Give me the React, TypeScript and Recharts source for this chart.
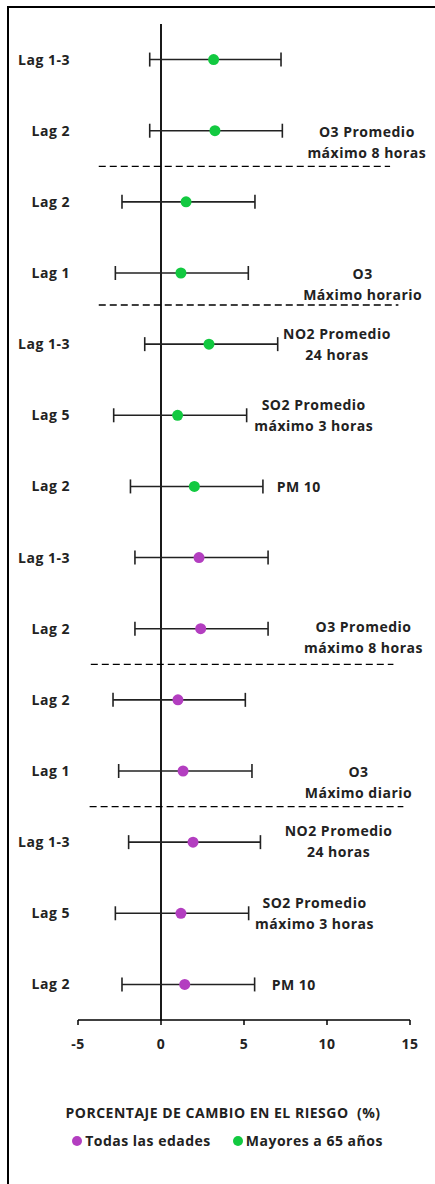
import React from 'react';
import {
  ComposedChart,
  Scatter,
  ErrorBar,
  XAxis,
  YAxis,
  ReferenceLine,
  ReferenceDot,
  Legend,
} from 'recharts';

// Row labels, top to bottom (row 1 = top)
const lagLabels = [
  'Lag 1-3', 'Lag 2', 'Lag 2', 'Lag 1', 'Lag 1-3', 'Lag 5', 'Lag 2',
  'Lag 1-3', 'Lag 2', 'Lag 2', 'Lag 1', 'Lag 1-3', 'Lag 5', 'Lag 2',
];

// Mayores a 65 años (rows 1-7)
const olderRows = [1, 2, 3, 4, 5, 6, 7];
const olderEstimate = [3.17, 3.25, 1.51, 1.2, 2.89, 1.0, 2.01];
const olderLower = [-0.68, -0.68, -2.35, -2.75, -0.98, -2.85, -1.84];
const olderUpper = [7.23, 7.31, 5.66, 5.26, 7.03, 5.16, 6.14];

// Todas las edades (rows 8-14)
const allRows = [8, 9, 10, 11, 12, 13, 14];
const allEstimate = [2.29, 2.39, 1.02, 1.33, 1.93, 1.2, 1.43];
const allLower = [-1.57, -1.57, -2.89, -2.55, -1.95, -2.75, -2.35];
const allUpper = [6.45, 6.45, 5.08, 5.48, 5.99, 5.28, 5.64];

const xTicks = [-5, 0, 5, 10, 15];

// dashed separators between pollutant groups
const dividerRows = [2.5, 4.45, 9.5, 11.5];
const dividerFrom = [-3.75, -3.75, -4.23, -4.3];
const dividerTo = [13.8, 14.3, 14.0, 14.6];

// pollutant notes on the right
const noteRows = [2, 4, 5, 6, 7, 9, 11, 12, 13, 14];
const noteLines = [
  ['O3 Promedio', 'máximo 8 horas'],
  ['O3', 'Máximo horario'],
  ['NO2 Promedio', '24 horas'],
  ['SO2 Promedio', 'máximo 3 horas'],
  ['PM 10'],
  ['O3 Promedio', 'máximo 8 horas'],
  ['O3', 'Máximo diario'],
  ['NO2 Promedio', '24 horas'],
  ['SO2 Promedio', 'máximo 3 horas'],
  ['PM 10'],
];
const noteX = [12.4, 12.15, 10.6, 9.2, 6.97, 12.2, 11.9, 10.7, 9.25, 6.67];
const noteShift = [0, 0, -11, -11, 0, -3, 0, -12, -11, 0];

const GREEN = '#12c940';
const PURPLE = '#b33ec0';
const FONT = '"Open Sans", sans-serif';
const TXT = { fontFamily: FONT, fontWeight: 700, fontSize: 14, fill: '#222', letterSpacing: 0.5 };

const build = (rows: number[], est: number[], lo: number[], hi: number[]) =>
  rows.map((r, i) => ({ x: est[i], y: r, err: [est[i] - lo[i], hi[i] - est[i]] }));

const olderData = build(olderRows, olderEstimate, olderLower, olderUpper);
const allData = build(allRows, allEstimate, allLower, allUpper);

const dot = (color: string) => (p: any) => (
  <circle cx={p.cx} cy={p.cy} r={5.5} fill={color} />
);

const NoteText = ({ cx, cy, idx }: any) => {
  const lines = noteLines[idx];
  const single = lines.length === 1;
  return (
    <text
      x={cx}
      y={cy + noteShift[idx]}
      textAnchor={single ? 'start' : 'middle'}
      dominantBaseline="central"
      {...TXT}
    >
      {lines.map((l, j) => (
        <tspan key={j} x={cx} dy={j === 0 ? 0 : 21}>
          {l}
        </tspan>
      ))}
    </text>
  );
};

const LegendBox = () => (
  <div
    style={{
      display: 'flex',
      justifyContent: 'center',
      gap: 22,
      fontFamily: FONT,
      fontWeight: 700,
      fontSize: 14,
      letterSpacing: 0.5,
      color: '#222',
    }}
  >
    {[
      { name: 'Todas las edades', color: PURPLE },
      { name: 'Mayores a 65 años', color: GREEN },
    ].map((it) => (
      <span key={it.name} style={{ display: 'flex', alignItems: 'center' }}>
        <span
          style={{
            width: 10,
            height: 10,
            borderRadius: 5,
            background: it.color,
            marginRight: 3,
            display: 'inline-block',
          }}
        />
        {it.name}
      </span>
    ))}
  </div>
);

export default function App() {
  return (
    <div style={{ position: 'absolute', left: 0, top: 0, width: 435, height: 1184, background: '#fff' }}>
      <div
        style={{
          position: 'absolute',
          left: 7,
          top: 6,
          width: 428,
          height: 1178,
          borderTop: '2px solid #000',
          borderLeft: '2px solid #000',
        }}
      />
      <ComposedChart
        width={435}
        height={1184}
        margin={{ top: 24, right: 25, bottom: 0, left: 0 }}
        style={{ position: 'absolute', left: 0, top: 0 }}
      >
        <XAxis
          type="number"
          dataKey="x"
          domain={[-5, 15]}
          ticks={xTicks}
          height={164}
          tickSize={5}
          tickMargin={14}
          axisLine={{ stroke: '#000', strokeWidth: 1.5 }}
          tickLine={{ stroke: '#000', strokeWidth: 1.5 }}
          tick={TXT}
          label={(props: any) => {
            const vb = props.viewBox;
            return (
              <text
                x={vb.x + vb.width / 2 - 21}
                y={vb.y + 92}
                textAnchor="middle"
                dominantBaseline="central"
                {...TXT}
              >
                {'PORCENTAJE DE CAMBIO EN EL RIESGO \u00a0(%)'}
              </text>
            );
          }}
        />
        <YAxis
          type="number"
          dataKey="y"
          domain={[0.5, 14.5]}
          reversed
          ticks={lagLabels.map((_, i) => i + 1)}
          interval={0}
          width={78}
          axisLine={false}
          tickLine={false}
          tickFormatter={(v: number) => lagLabels[v - 1]}
          tick={TXT}
        />
        <ReferenceLine x={0} stroke="#000" strokeWidth={1.8} />
        {dividerRows.map((r, i) => (
          <ReferenceLine
            key={'d' + i}
            segment={[
              { x: dividerFrom[i], y: r },
              { x: dividerTo[i], y: r },
            ]}
            stroke="#000"
            strokeWidth={1.3}
            strokeDasharray="7 4"
          />
        ))}
        <Scatter
          name="Todas las edades"
          data={allData}
          fill={PURPLE}
          shape={dot(PURPLE)}
          isAnimationActive={false}
        >
          <ErrorBar dataKey="err" direction="x" width={7} stroke="#222" strokeWidth={1.6} />
        </Scatter>
        <Scatter
          name="Mayores a 65 años"
          data={olderData}
          fill={GREEN}
          shape={dot(GREEN)}
          isAnimationActive={false}
        >
          <ErrorBar dataKey="err" direction="x" width={7} stroke="#222" strokeWidth={1.6} />
        </Scatter>
        {noteRows.map((r, i) => (
          <ReferenceDot
            key={'n' + i}
            x={noteX[i]}
            y={r}
            r={0}
            ifOverflow="visible"
            shape={(p: any) => <NoteText {...p} idx={i} />}
          />
        ))}
        <Legend
          layout="horizontal"
          verticalAlign="middle"
          align="center"
          content={() => <LegendBox />}
          wrapperStyle={{ position: 'absolute', top: 1131, left: 0, width: 455 }}
        />
      </ComposedChart>
    </div>
  );
}
